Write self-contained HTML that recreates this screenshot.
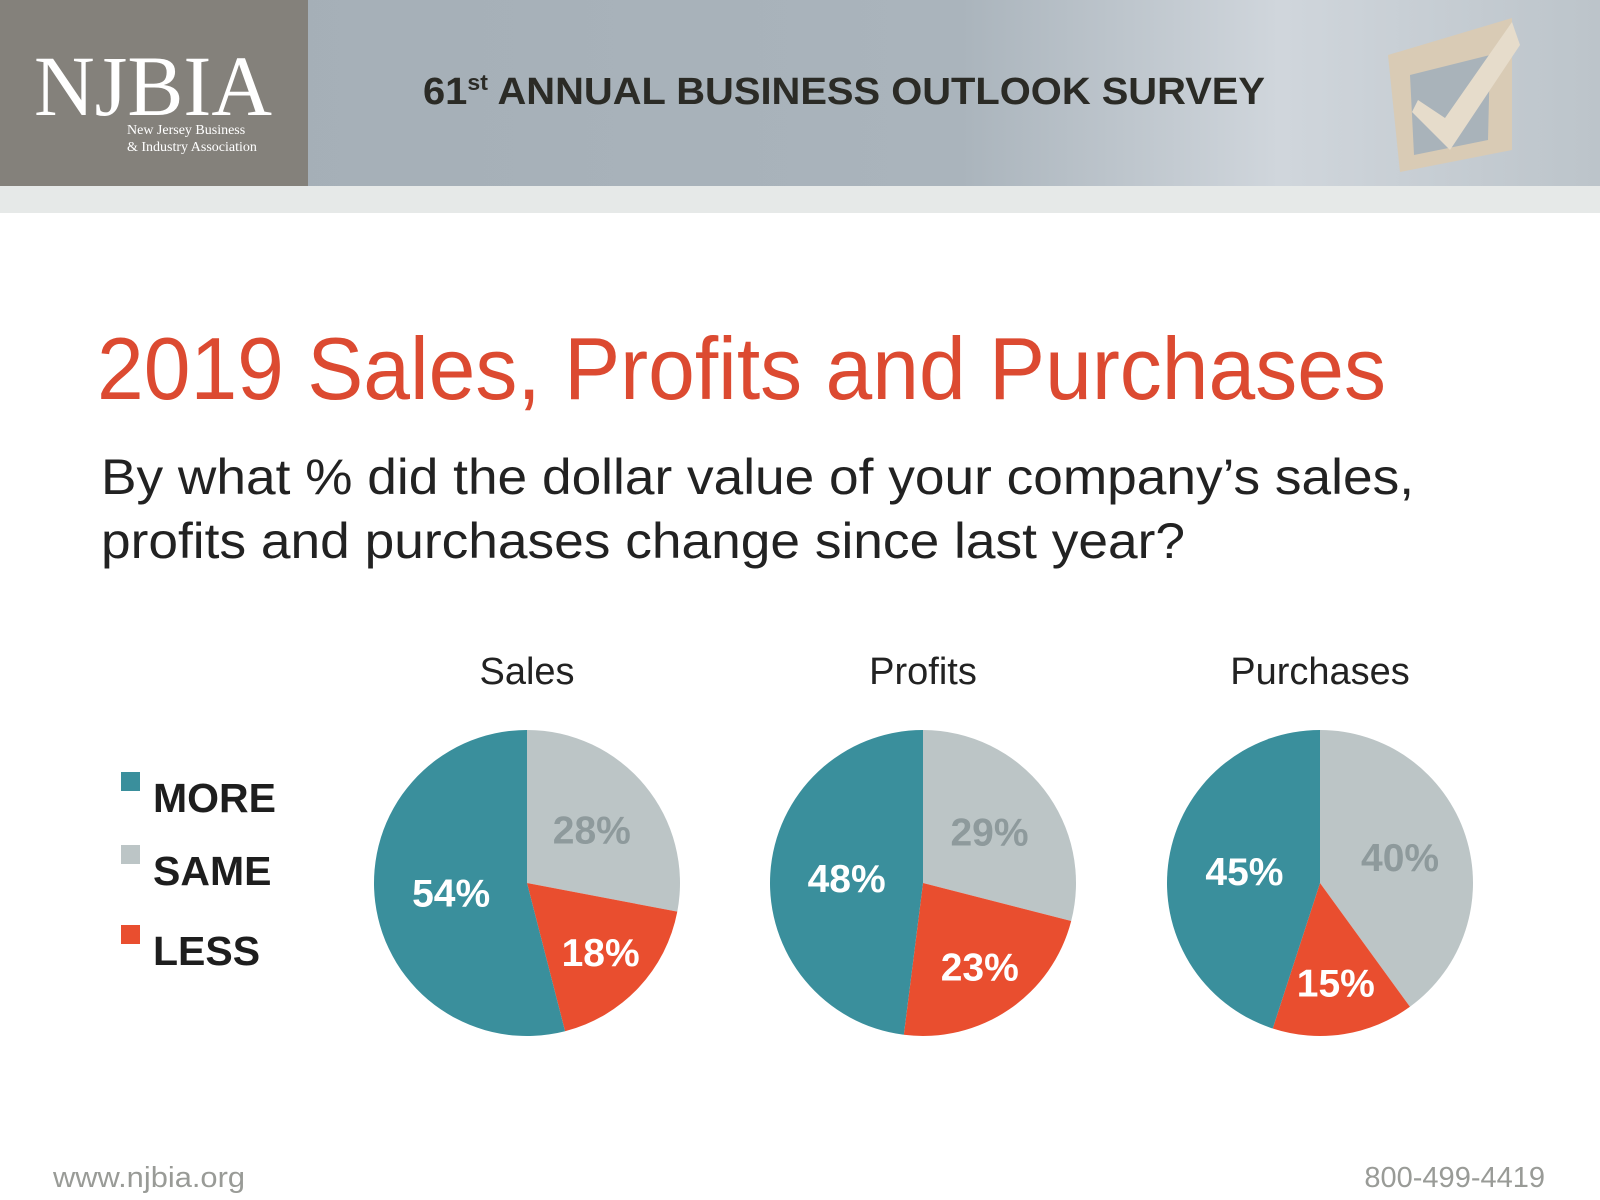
<!DOCTYPE html>
<html><head><meta charset="utf-8"><style>
html,body{margin:0;padding:0;background:#fff}
svg{display:block;font-family:"Liberation Sans",Arial,sans-serif}
</style></head><body>
<svg id="chart" width="1600" height="1200" viewBox="0 0 1600 1200">
<defs>
<linearGradient id="hdr" x1="0" x2="1" y1="0" y2="0">
<stop offset="0" stop-color="#a3adb5"/><stop offset="0.6" stop-color="#aab4bc"/><stop offset="0.8" stop-color="#d0d6dc"/><stop offset="1" stop-color="#bcc4ca"/>
</linearGradient>
</defs>
<rect x="0" y="0" width="1600" height="186" fill="url(#hdr)"/>
<rect x="0" y="186" width="1600" height="27" fill="#e6e9e8"/>
<rect x="0" y="0" width="308" height="186" fill="#84817b"/>
<text x="34" y="115" font-family="Liberation Serif,serif" font-size="86" fill="#fff" textLength="238" lengthAdjust="spacingAndGlyphs">NJBIA</text>
<text x="127" y="134" font-family="Liberation Serif,serif" font-size="14" fill="#fff">New Jersey Business</text>
<text x="127" y="151" font-family="Liberation Serif,serif" font-size="14" fill="#fff">&amp; Industry Association</text>
<text x="423" y="104" font-size="38" font-weight="bold" fill="#2b2b26" textLength="842" lengthAdjust="spacingAndGlyphs">61<tspan font-size="22" dy="-14">st</tspan><tspan dy="14"> ANNUAL BUSINESS OUTLOOK SURVEY</tspan></text>
<g>
<path d="M1388 55 L1512 18 L1512 150 L1400 172 Z" fill="#d9cbb5"/>
<path d="M1410 75 L1490 55 L1488 140 L1414 155 Z" fill="#a9b3ba"/>
<path d="M1418 100 L1445 118 L1512 22 L1520 45 L1450 150 L1412 112 Z" fill="#e6dccb"/>
</g>
<text x="97" y="399" font-size="88" fill="#dc4a31" textLength="1289" lengthAdjust="spacingAndGlyphs">2019 Sales, Profits and Purchases</text>
<text x="101" y="494" font-size="50" fill="#222" textLength="1313" lengthAdjust="spacingAndGlyphs">By what % did the dollar value of your company’s sales,</text>
<text x="101" y="558" font-size="50" fill="#222" textLength="1084" lengthAdjust="spacingAndGlyphs">profits and purchases change since last year?</text>
<g id="legend"></g>
<g id="pies"></g>
<text x="53" y="1187" font-size="29" fill="#999b97" textLength="192" lengthAdjust="spacingAndGlyphs">www.njbia.org</text>
<text x="1545" y="1187" font-size="29" fill="#999b97" text-anchor="end">800-499-4419</text>
</svg>
<script>
const categories = ["Sales", "Profits", "Purchases"];
const seriesNames = ["SAME", "LESS", "MORE"];
const sameValues = [28, 29, 40];
const lessValues = [18, 23, 15];
const moreValues = [54, 48, 45];
const legendLabels = ["MORE", "SAME", "LESS"];

const NS = "http://www.w3.org/2000/svg";
const colors = {MORE: "#3a8f9c", SAME: "#bcc5c6", LESS: "#e94e2f"};
const labelColors = {MORE: "#fff", SAME: "#8e9a9c", LESS: "#fff"};
const labelRadius = {MORE: 0.5, SAME: 0.55, LESS: 0.66};
const centersX = [527, 923, 1320];
const cy = 883, r = 153;

function mk(tag, attrs, parent) {
  const el = document.createElementNS(NS, tag);
  for (const k in attrs) el.setAttribute(k, attrs[k]);
  parent.appendChild(el);
  return el;
}
function pt(cx, frac, rad) {
  const a = frac * 2 * Math.PI;
  return [cx + rad * Math.sin(a), cy - rad * Math.cos(a)];
}

const pies = document.getElementById("pies");
categories.forEach((cat, i) => {
  const cx = centersX[i];
  const t = mk("text", {x: cx, y: 684, "font-size": 38, fill: "#222", "text-anchor": "middle"}, pies);
  
  
  t.textContent = cat;
  const vals = [sameValues[i], lessValues[i], moreValues[i]];
  const total = vals.reduce((a, b) => a + b, 0);
  let start = 0;
  vals.forEach((v, j) => {
    const name = seriesNames[j];
    const f0 = start / total, f1 = (start + v) / total;
    const p0 = pt(cx, f0, r), p1 = pt(cx, f1, r);
    const large = (f1 - f0) > 0.5 ? 1 : 0;
    const path = mk("path", {d: `M${cx} ${cy} L${p0[0]} ${p0[1]} A${r} ${r} 0 ${large} 1 ${p1[0]} ${p1[1]} Z`, fill: colors[name]}, pies);
    
    
    const lp = pt(cx, (f0 + f1) / 2, r * labelRadius[name]);
    const lt = mk("text", {x: lp[0], y: lp[1] + 14, "font-size": 39, "font-weight": "bold", fill: labelColors[name], "text-anchor": "middle"}, pies);
    
    
    lt.textContent = v + "%";
    start += v;
  });
});

const legend = document.getElementById("legend");
legendLabels.forEach((name, k) => {
  const y = [797, 870, 950][k];
  const sq = mk("rect", {x: 121, y: y - 25, width: 19, height: 19, fill: colors[name]}, legend);
  
  
  const tx = mk("text", {x: 153, y: y + 15, "font-size": 41, "font-weight": "bold", fill: "#1e1e1e"}, legend);
  
  
  tx.textContent = name;
});
</script>
</body></html>
